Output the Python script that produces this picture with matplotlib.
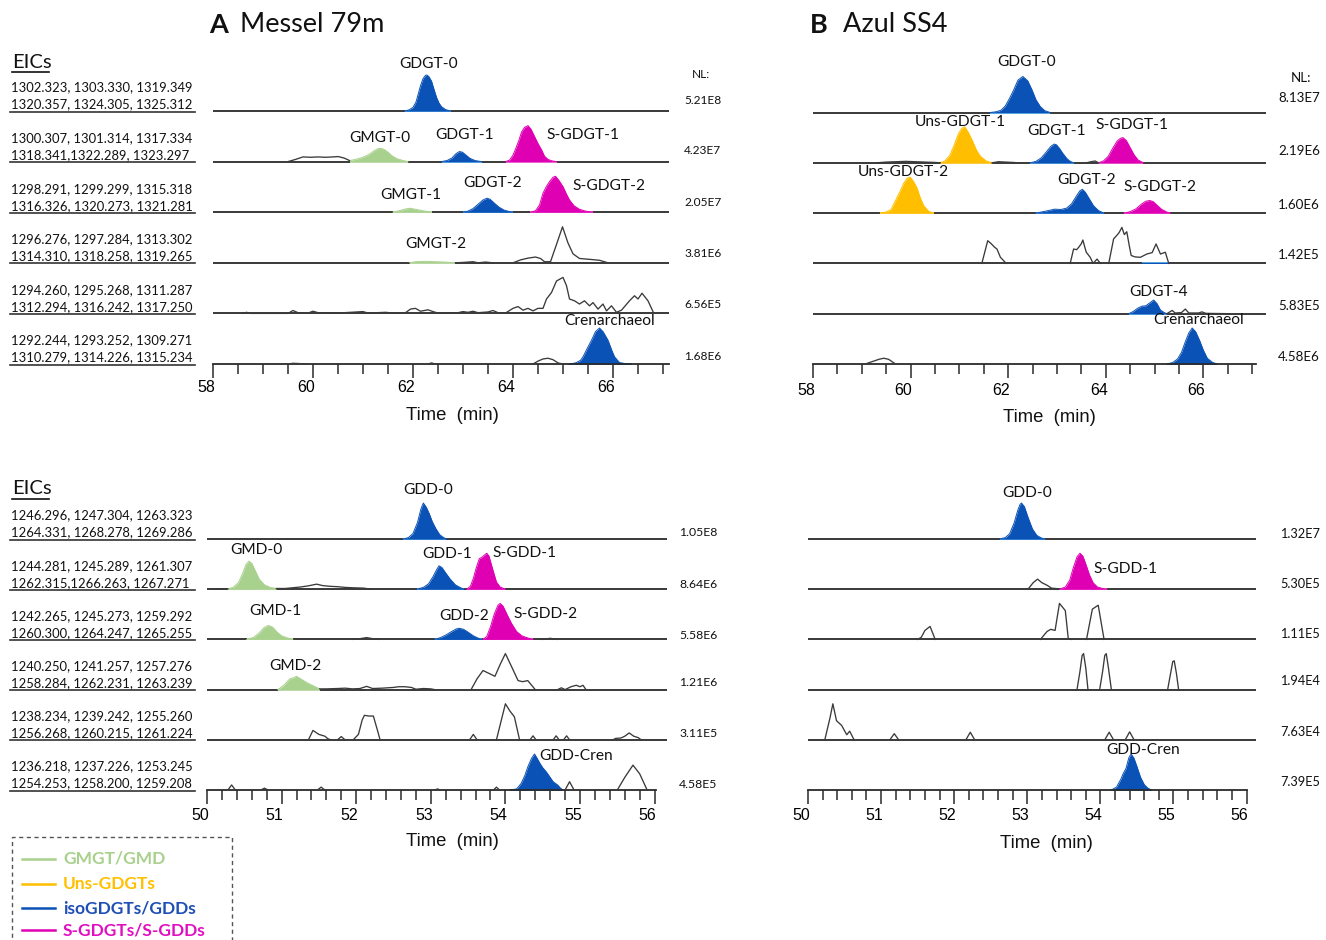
import numpy as np
import matplotlib
matplotlib.use("Agg")
import matplotlib.pyplot as plt
from matplotlib.lines import Line2D
from matplotlib.patches import Rectangle
from matplotlib.transforms import ScaledTranslation

# ====================== DATA (time in min, intensity in % of NL) ======================
# ---- Panel A: Messel 79m, GDGTs ----
A_GDGT0 = [(61.83,0),(61.92,3),(62.0,10),(62.06,25),(62.1,45),(62.15,70),(62.2,90),(62.25,99),(62.28,100),
           (62.32,95),(62.37,83),(62.42,60),(62.47,38),(62.52,22),(62.57,12),(62.65,4),(62.75,0)]
A_N1 = [(59.5,0),(59.65,6),(59.8,13),(59.95,12),(60.1,13),(60.25,12),(60.4,13),(60.5,14),(60.62,10),(60.73,3)]
A_GMGT0 = [(60.73,3),(60.85,6),(61.0,12),(61.12,20),(61.22,30),(61.3,36),(61.36,37),(61.42,34),(61.5,26),
           (61.58,16),(61.68,8),(61.8,3),(61.9,0)]
A_GDGT1 = [(62.57,0),(62.68,3),(62.78,10),(62.86,22),(62.93,28),(62.99,26),(63.06,18),(63.14,9),(63.24,3),(63.37,0)]
A_SGDGT1 = [(63.85,0),(63.93,4),(64.0,18),(64.06,38),(64.12,60),(64.17,82),(64.23,95),(64.3,100),(64.36,90),
            (64.43,70),(64.5,50),(64.57,33),(64.63,15),(64.7,6),(64.78,2),(64.87,0)]
A_GMGT1 = [(61.6,0),(61.72,4),(61.85,9),(61.95,11),(62.05,8),(62.2,4),(62.37,0)]
A_GDGT2 = [(62.99,0),(63.1,3),(63.2,10),(63.3,22),(63.4,34),(63.48,39),(63.54,36),(63.62,26),(63.72,14),
           (63.82,6),(63.92,2),(64.0,0)]
A_SGDGT2 = [(64.35,0),(64.45,4),(64.53,20),(64.6,53),(64.67,72),(64.73,85),(64.8,97),(64.85,100),(64.92,88),
            (65.0,71),(65.07,50),(65.13,34),(65.22,18),(65.33,8),(65.45,3),(65.6,0)]
A_GMGT2 = [(61.93,0),(62.05,3),(62.25,4),(62.45,3),(62.65,2),(62.83,0)]
A_N3a = [(62.85,0),(63.0,1),(63.2,3),(63.3,0),(63.45,2),(63.6,0)]
A_N3 = [(64.0,0),(64.15,8),(64.3,13),(64.45,16),(64.55,12),(64.63,3),(64.75,3),(64.88,55),(64.99,100),
        (65.1,55),(65.2,25),(65.33,12),(65.5,10),(65.73,7),(65.9,0)]
A_N4 = [(58.6,0),(58.67,3),(58.75,0),(59.5,0),(59.6,8),(59.7,2),(59.9,1),(60.0,6),(60.1,2),(60.3,2),(60.5,1),
        (61.0,5),(61.1,1),(61.45,3),(61.6,1),(61.85,2),(61.95,12),(62.05,14),(62.15,6),(62.3,10),(62.4,5),
        (62.5,1),(62.9,2),(63.0,5),(63.1,3),(63.2,6),(63.3,2),(63.5,4),(63.6,8),(63.7,2),(63.85,1),(64.0,14),
        (64.1,19),(64.2,9),(64.3,14),(64.4,7),(64.5,14),(64.6,14),(64.67,40),(64.77,58),(64.87,90),(65.0,100),
        (65.07,77),(65.13,40),(65.23,35),(65.33,26),(65.43,35),(65.53,21),(65.6,30),(65.7,12),(65.8,26),
        (65.87,7),(65.97,21),(66.07,3),(66.17,9),(66.33,35),(66.43,49),(66.5,40),(66.58,56),(66.7,35),(66.8,5)]
A_N5a = [(59.5,0),(59.6,2),(59.75,1),(59.85,0)]
A_N5b = [(62.3,0),(62.37,3),(62.45,0)]
A_N5c = [(64.4,0),(64.5,8),(64.6,14),(64.7,16),(64.8,12),(64.9,3),(65.0,0)]
A_CREN = [(65.12,0),(65.25,3),(65.35,10),(65.4,20),(65.48,42),(65.57,66),(65.65,90),(65.73,100),(65.8,90),
          (65.9,66),(65.97,40),(66.03,20),(66.13,4),(66.25,1),(66.37,0)]

# ---- Panel B: Azul SS4, GDGTs ----
B_GDGT0 = [(61.63,0),(61.75,2),(61.85,6),(61.94,18),(62.03,40),(62.11,62),(62.2,90),(62.3,100),(62.4,88),
           (62.49,62),(62.57,35),(62.66,16),(62.75,5),(62.86,0)]
B_N1a = [(59.3,0),(59.5,2),(59.7,3),(59.9,4),(60.1,3),(60.3,2),(60.5,1),(60.61,0)]
B_UNS1 = [(60.61,0),(60.7,5),(60.8,20),(60.88,45),(60.98,81),(61.05,96),(61.11,100),(61.18,85),(61.26,63),
          (61.35,35),(61.43,18),(61.55,5),(61.67,0)]
B_N1b = [(61.67,0),(61.8,3),(61.95,2),(62.1,1),(62.2,0)]
B_GDGT1 = [(62.45,0),(62.57,4),(62.68,14),(62.78,30),(62.87,45),(62.94,52),(62.99,50),(63.05,40),(63.12,26),
           (63.2,12),(63.27,4),(63.34,0)]
B_N1c = [(63.6,0),(63.7,3),(63.78,5),(63.85,0)]
B_SGDGT1 = [(63.85,0),(63.95,5),(64.05,18),(64.14,40),(64.23,60),(64.3,68),(64.35,70),(64.42,62),(64.5,42),
            (64.58,22),(64.66,8),(64.77,0)]
B_UNS2 = [(59.38,0),(59.5,3),(59.6,10),(59.72,43),(59.8,65),(59.86,83),(59.93,97),(59.99,100),(60.06,88),
          (60.13,70),(60.2,42),(60.27,20),(60.37,5),(60.47,0)]
B_GDGT2 = [(62.56,0),(62.68,3),(62.82,7),(62.95,11),(63.08,10),(63.2,14),(63.3,26),(63.4,48),(63.47,62),
           (63.52,66),(63.58,58),(63.66,40),(63.75,20),(63.85,7),(63.96,0)]
B_SGDGT2 = [(64.37,0),(64.5,4),(64.62,12),(64.73,25),(64.82,33),(64.9,35),(64.97,32),(65.05,22),(65.15,10),
            (65.25,3),(65.32,0)]
B_N3a = [(61.46,0),(61.58,63),(61.65,55),(61.72,45),(61.77,40),(61.84,17),(61.96,0)]
B_N3b = [(63.27,0),(63.34,40),(63.4,38),(63.44,44),(63.5,55),(63.53,65),(63.57,45),(63.6,31),(63.68,17),
         (63.74,0),(63.82,12),(63.89,0)]
B_N3c = [(64.06,0),(64.16,68),(64.22,77),(64.27,85),(64.33,100),(64.38,80),(64.43,88),(64.48,50),(64.52,22),
         (64.6,18),(64.71,17),(64.84,26),(64.95,30),(65.03,54),(65.12,26),(65.22,31),(65.29,0)]
B_N3blue = [(64.75,0),(65.3,0)]
B_GDGT4 = [(64.47,0),(64.56,6),(64.65,15),(64.74,21),(64.82,22),(64.9,30),(64.98,38),(65.05,28),(65.12,10),
           (65.2,3),(65.25,0)]
B_N4 = [(65.25,0),(65.36,9),(65.42,2),(65.55,3),(65.63,13),(65.7,2),(65.9,2),(65.97,5),(66.05,1),(66.55,0)]
B_N5 = [(59.07,0),(59.2,6),(59.35,13),(59.45,16),(59.55,13),(59.69,0)]
B_CREN = [(65.25,0),(65.37,4),(65.47,14),(65.55,32),(65.63,62),(65.7,86),(65.77,100),(65.84,90),(65.92,66),
          (66.0,38),(66.08,16),(66.18,5),(66.28,0)]

# ---- Panel C: Messel 79m, GDDs ----
C_GDD0 = [(52.63,0),(52.7,4),(52.76,15),(52.82,45),(52.87,85),(52.9,100),(52.94,88),(52.98,70),(53.02,48),
          (53.07,28),(53.12,12),(53.17,4),(53.21,0)]
C_N1a = [(50.1,0),(50.2,1),(50.28,1)]
C_GMD0 = [(50.28,1),(50.35,5),(50.42,18),(50.48,45),(50.52,68),(50.56,78),(50.6,72),(50.65,50),(50.7,28),
          (50.77,12),(50.85,5),(50.93,2)]
C_N1b = [(50.93,2),(51.05,2),(51.15,4),(51.25,6),(51.35,9),(51.47,14),(51.55,10),(51.65,8),(51.75,7),
         (51.85,5),(51.95,4),(52.1,3),(52.2,0)]
C_GDD1 = [(52.81,0),(52.9,5),(52.97,15),(53.03,35),(53.08,55),(53.11,65),(53.15,60),(53.2,45),(53.26,28),
          (53.33,12),(53.4,4),(53.45,0)]
C_SGDD1 = [(53.48,0),(53.53,8),(53.57,30),(53.61,60),(53.65,85),(53.68,88),(53.72,95),(53.75,100),(53.78,92),
           (53.83,55),(53.88,20),(53.93,6),(54.0,0)]
C_GMD1 = [(50.53,0),(50.62,5),(50.7,18),(50.76,32),(50.82,39),(50.88,34),(50.94,20),(51.0,10),(51.08,4),(51.15,0)]
C_N2a = [(51.95,0),(52.05,2),(52.14,5),(52.22,2),(52.3,0)]
C_GDD2 = [(53.05,0),(53.13,5),(53.2,12),(53.28,22),(53.34,29),(53.38,31),(53.44,28),(53.5,20),(53.57,10),
          (53.63,4),(53.68,0)]
C_SGDD2 = [(53.7,0),(53.75,8),(53.8,35),(53.85,70),(53.9,95),(53.93,100),(53.97,92),(54.02,70),(54.08,45),
           (54.15,22),(54.22,10),(54.3,4),(54.37,0)]
C_N2b = [(54.5,0),(54.6,3),(54.69,0)]
C_GMD2 = [(50.95,0),(51.03,12),(51.11,30),(51.16,33),(51.2,37),(51.27,28),(51.35,18),(51.43,10),(51.51,2)]
C_N3a = [(51.51,2),(51.6,2),(51.75,3),(51.85,4),(51.95,2),(52.05,3),(52.14,9),(52.22,3),(52.35,4),(52.5,6),
         (52.57,8),(52.65,8),(52.74,6),(52.8,1),(52.9,3),(53.0,2),(53.05,0)]
C_N3b = [(53.54,0),(53.62,30),(53.7,53),(53.78,45),(53.86,37),(53.93,70),(54.0,100),(54.08,65),(54.17,25),
         (54.23,22),(54.3,25),(54.4,0)]
C_N3c = [(54.7,0),(54.75,5),(54.8,0),(54.88,8),(54.95,12),(55.0,8),(55.04,12),(55.08,0)]
C_N4a = [(51.36,0),(51.42,26),(51.5,15),(51.58,10),(51.62,3),(51.66,0)]
C_N4b = [(51.75,0),(51.8,9),(51.85,0)]
C_N4c = [(51.96,0),(52.03,15),(52.08,55),(52.11,68),(52.17,66),(52.23,66),(52.28,30),(52.32,0)]
C_N4d = [(53.52,0),(53.57,15),(53.62,0)]
C_N4e = [(53.88,0),(54.0,100),(54.06,80),(54.12,64),(54.19,0)]
C_N4f = [(54.33,0),(54.37,11),(54.41,0)]
C_N4g = [(54.64,0),(54.68,11),(54.72,0),(54.78,0),(54.82,11),(54.86,0)]
C_N4h = [(55.44,0),(55.48,4),(55.55,5),(55.6,10),(55.66,19),(55.72,10),(55.78,6),(55.82,0)]
C_N5a = [(50.28,0),(50.33,14),(50.38,0)]
C_N5b = [(50.72,0),(50.77,5),(50.82,0)]
C_N5c = [(51.48,0),(51.53,8),(51.58,0)]
C_N5d = [(53.05,0),(53.09,3),(53.13,0)]
C_N5e = [(53.84,0),(53.88,8),(53.92,0)]
C_GDDCREN = [(54.06,0),(54.15,3),(54.21,18),(54.26,40),(54.3,64),(54.35,88),(54.39,100),(54.42,90),(54.46,75),
             (54.5,62),(54.55,50),(54.6,35),(54.64,23),(54.7,14),(54.74,5),(54.77,0)]
C_N5f = [(54.8,0),(54.86,23),(54.92,0)]
C_N5g = [(55.5,0),(55.6,35),(55.71,69),(55.8,45),(55.9,0)]

# ---- Panel D: Azul SS4, GDDs ----
D_GDD0 = [(52.62,0),(52.7,4),(52.76,15),(52.82,45),(52.87,80),(52.9,96),(52.92,100),(52.96,90),(53.01,60),
          (53.07,28),(53.13,10),(53.19,3),(53.24,0)]
D_N1 = [(53.01,0),(53.08,18),(53.14,28),(53.2,18),(53.27,11),(53.33,3),(53.44,1)]
D_SGDD1 = [(53.44,0),(53.52,6),(53.58,25),(53.63,60),(53.68,90),(53.72,100),(53.76,92),(53.8,70),(53.85,40),
           (53.9,18),(53.96,6),(54.03,2),(54.09,0)]
D_N2a = [(51.5,0),(51.55,6),(51.6,25),(51.67,36),(51.74,0)]
D_N2b = [(53.18,0),(53.27,22),(53.32,28),(53.38,25),(53.44,100),(53.52,80),(53.56,3),(53.6,0)]
D_N2c = [(53.81,0),(53.89,84),(53.97,95),(54.05,0)]
D_N3a = [(53.68,0),(53.72,50),(53.75,95),(53.77,100),(53.8,60),(53.83,0)]
D_N3b = [(53.99,0),(54.03,50),(54.06,95),(54.08,100),(54.11,60),(54.15,0)]
D_N3c = [(54.92,0),(54.96,45),(54.99,78),(55.01,80),(55.04,45),(55.07,0)]
D_N4a = [(50.23,0),(50.3,60),(50.34,100),(50.39,53),(50.46,40),(50.53,14),(50.57,24),(50.63,0)]
D_N4b = [(51.12,0),(51.18,17),(51.24,0)]
D_N4c = [(52.16,0),(52.22,21),(52.28,0)]
D_N4d = [(54.06,0),(54.12,21),(54.18,0)]
D_N4e = [(54.34,0),(54.4,22),(54.46,0)]
D_GDDCREN = [(54.15,0),(54.22,8),(54.28,30),(54.31,45),(54.35,60),(54.39,90),(54.42,100),(54.46,88),(54.5,65),
             (54.55,35),(54.6,15),(54.65,5),(54.7,0)]

# traces, top to bottom
A_TRACES = [
    [("blue", A_GDGT0)],
    [("line", A_N1), ("green", A_GMGT0), ("blue", A_GDGT1), ("magenta", A_SGDGT1)],
    [("green", A_GMGT1), ("blue", A_GDGT2), ("magenta", A_SGDGT2)],
    [("green", A_GMGT2), ("line", A_N3a), ("line", A_N3)],
    [("line", A_N4)],
    [("line", A_N5a), ("line", A_N5b), ("line", A_N5c), ("blue", A_CREN)],
]
B_TRACES = [
    [("blue", B_GDGT0)],
    [("line", B_N1a), ("yellow", B_UNS1), ("line", B_N1b), ("blue", B_GDGT1), ("line", B_N1c), ("magenta", B_SGDGT1)],
    [("yellow", B_UNS2), ("blue", B_GDGT2), ("magenta", B_SGDGT2)],
    [("line", B_N3a), ("line", B_N3b), ("blue", B_N3blue), ("line", B_N3c)],
    [("blue", B_GDGT4), ("line", B_N4)],
    [("line", B_N5), ("blue", B_CREN)],
]
C_TRACES = [
    [("blue", C_GDD0)],
    [("line", C_N1a), ("green", C_GMD0), ("line", C_N1b), ("blue", C_GDD1), ("magenta", C_SGDD1)],
    [("green", C_GMD1), ("line", C_N2a), ("blue", C_GDD2), ("magenta", C_SGDD2), ("line", C_N2b)],
    [("green", C_GMD2), ("line", C_N3a), ("line", C_N3b), ("line", C_N3c)],
    [("line", C_N4a), ("line", C_N4b), ("line", C_N4c), ("line", C_N4d), ("line", C_N4e), ("line", C_N4f),
     ("line", C_N4g), ("line", C_N4h)],
    [("line", C_N5a), ("line", C_N5b), ("line", C_N5c), ("line", C_N5d), ("line", C_N5e), ("blue", C_GDDCREN),
     ("line", C_N5f), ("line", C_N5g)],
]
D_TRACES = [
    [("blue", D_GDD0)],
    [("line", D_N1), ("magenta", D_SGDD1)],
    [("line", D_N2a), ("line", D_N2b), ("line", D_N2c)],
    [("line", D_N3a), ("line", D_N3b), ("line", D_N3c)],
    [("line", D_N4a), ("line", D_N4b), ("line", D_N4c), ("line", D_N4d), ("line", D_N4e)],
    [("blue", D_GDDCREN)],
]

# normalisation levels
A_NL = ["5.21E8", "4.23E7", "2.05E7", "3.81E6", "6.56E5", "1.68E6"]
B_NL = ["8.13E7", "2.19E6", "1.60E6", "1.42E5", "5.83E5", "4.58E6"]
C_NL = ["1.05E8", "8.64E6", "5.58E6", "1.21E6", "3.11E5", "4.58E5"]
D_NL = ["1.32E7", "5.30E5", "1.11E5", "1.94E4", "7.63E4", "7.39E5"]

# EIC m/z labels
TOP_EICS = [("1302.323, 1303.330, 1319.349", "1320.357, 1324.305, 1325.312"),
            ("1300.307, 1301.314, 1317.334", "1318.341,1322.289, 1323.297"),
            ("1298.291, 1299.299, 1315.318", "1316.326, 1320.273, 1321.281"),
            ("1296.276, 1297.284, 1313.302", "1314.310, 1318.258, 1319.265"),
            ("1294.260, 1295.268, 1311.287", "1312.294, 1316.242, 1317.250"),
            ("1292.244, 1293.252, 1309.271", "1310.279, 1314.226, 1315.234")]
BOT_EICS = [("1246.296, 1247.304, 1263.323", "1264.331, 1268.278, 1269.286"),
            ("1244.281, 1245.289, 1261.307", "1262.315,1266.263, 1267.271"),
            ("1242.265, 1245.273, 1259.292", "1260.300, 1264.247, 1265.255"),
            ("1240.250, 1241.257, 1257.276", "1258.284, 1262.231, 1263.239"),
            ("1238.234, 1239.242, 1255.260", "1256.268, 1260.215, 1261.224"),
            ("1236.218, 1237.226, 1253.245", "1254.253, 1258.200, 1259.208")]

# peak labels: (text, time, trace index, height above baseline in trace spacings)
A_LABELS = [("GDGT-0", 62.32, 0, 0.93), ("GMGT-0", 61.34, 1, 0.46), ("GDGT-1", 63.04, 1, 0.53),
            ("S-GDGT-1", 65.40, 1, 0.53), ("GMGT-1", 61.96, 2, 0.34), ("GDGT-2", 63.59, 2, 0.57),
            ("S-GDGT-2", 65.91, 2, 0.51), ("GMGT-2", 62.46, 3, 0.38), ("Crenarchaeol", 65.93, 5, 0.84)]
B_LABELS = [("GDGT-0", 62.37, 0, 1.0), ("Uns-GDGT-1", 61.01, 1, 0.82), ("GDGT-1", 62.99, 1, 0.63),
            ("S-GDGT-1", 64.54, 1, 0.76), ("Uns-GDGT-2", 59.85, 2, 0.81), ("GDGT-2", 63.60, 2, 0.66),
            ("S-GDGT-2", 65.12, 2, 0.51), ("GDGT-4", 65.08, 4, 0.44), ("Crenarchaeol", 65.90, 5, 0.87)]
C_LABELS = [("GDD-0", 52.97, 0, 0.98), ("GMD-0", 50.66, 1, 0.78), ("GDD-1", 53.22, 1, 0.71),
            ("S-GDD-1", 54.25, 1, 0.73), ("GMD-1", 50.92, 2, 0.56), ("GDD-2", 53.45, 2, 0.46),
            ("S-GDD-2", 54.54, 2, 0.50), ("GMD-2", 51.19, 3, 0.48), ("GDD-Cren", 54.95, 5, 0.68)]
D_LABELS = [("GDD-0", 53.00, 0, 0.92), ("S-GDD-1", 54.34, 1, 0.40), ("GDD-Cren", 54.59, 5, 0.80)]

LEGEND_NAMES = ["GMGT/GMD", "Uns-GDGTs", "isoGDGTs/GDDs", "S-GDGTs/S-GDDs"]
LEGEND_KEYS = ["green", "yellow", "blue", "magenta"]

# ====================== STYLE ======================
FILL = {"blue": "#0b52b6", "magenta": "#e000b4", "green": "#a9d18e", "yellow": "#ffbf00"}
EDGE = {"blue": "#58a6e6", "magenta": "#f070d8", "green": "#c5e0b3", "yellow": "#ffd45a"}
LEG_TXT = {"green": "#a9d18e", "yellow": "#ffc000", "blue": "#1f4fb5", "magenta": "#e010c0"}
LINE_C = "#3a3a3a"
BASE_C = "#2a2a2a"
TXT = "Lato"
AX_FONT = "Liberation Sans"

W, H = 1326, 940
fig = plt.figure(figsize=(W / 100, H / 100), dpi=100)
fig.patch.set_facecolor("white")


def ftext(xp, yp, s, **kw):
    return fig.text(xp / W, 1 - yp / H, s, **kw)


def fline(x0, x1, y0, y1, **kw):
    fig.add_artist(Line2D([x0 / W, x1 / W], [1 - y0 / H, 1 - y1 / H], transform=fig.transFigure, **kw))


# panel geometry (pixels) and axis settings
GEOM = {
    "A": dict(L=213, R=669, top=40, bottom=364, t0=58, ppm=50.0, sp=50.6, bound=None,
              majors=[58, 60, 62, 64, 66], mstep=0.5, mend=67.0, pad=1.4),
    "B": dict(L=813, R=1266, top=40, bottom=364, t0=58, ppm=48.8, sp=50.3, bound=67.08,
              majors=[58, 60, 62, 64, 66], mstep=0.5, mend=67.0, pad=3.8),
    "C": dict(L=207, R=667, top=470, bottom=790, t0=50, ppm=74.6, sp=50.2, bound=56.02,
              majors=[50, 51, 52, 53, 54, 55, 56], mstep=0.2, mend=56.0, pad=2.8),
    "D": dict(L=808, R=1256, top=470, bottom=790, t0=50, ppm=73.1, sp=50.2, bound=56.0,
              majors=[50, 51, 52, 53, 54, 55, 56], mstep=0.2, mend=56.0, pad=2.8),
}


def make_panel(key, traces, labels):
    g = GEOM[key]
    ax = fig.add_axes([g["L"] / W, 1 - g["bottom"] / H, (g["R"] - g["L"]) / W, (g["bottom"] - g["top"]) / H])
    tmax = g["t0"] + (g["R"] - g["L"]) / g["ppm"]
    ax.set_xlim(g["t0"], tmax)
    ax.set_ylim(0, (g["bottom"] - g["top"]) / g["sp"])
    ax.patch.set_alpha(0)
    for s in ("top", "left", "right"):
        ax.spines[s].set_visible(False)
    ax.spines["bottom"].set_linewidth(1.3)
    ax.spines["bottom"].set_color(BASE_C)
    ax.spines["bottom"].set_bounds(g["t0"], g["bound"] if g["bound"] else tmax)
    ax.set_yticks([])
    ax.set_xticks(g["majors"])
    ax.set_xticks(np.arange(g["t0"], g["mend"] + 1e-6, g["mstep"]), minor=True)
    ax.tick_params(axis="x", which="major", direction="out", length=10, width=1.1, color=BASE_C,
                   labelsize=11.5, pad=g["pad"])
    ax.tick_params(axis="x", which="minor", direction="out", length=7, width=1.1, color=BASE_C)
    for lab in ax.get_xticklabels():
        lab.set_fontfamily(AX_FONT)
        lab.set_transform(lab.get_transform() + ScaledTranslation(-0.07, 0, fig.dpi_scale_trans))
    fs = 36.0 / g["sp"]
    n = len(traces)
    for i, segs in enumerate(traces):
        off = n - 1 - i
        if i < n - 1:
            ax.plot([g["t0"], tmax], [off, off], color=BASE_C, lw=1.3, zorder=1, clip_on=False,
                    solid_capstyle="butt")
        for kind, pts in segs:
            t = [p[0] for p in pts]
            v = [off + p[1] * fs / 100.0 for p in pts]
            if kind == "line":
                ax.plot(t, v, color=LINE_C, lw=0.95, zorder=3, clip_on=False)
            else:
                ax.plot([t[0], t[-1]], [off, off], color=EDGE[kind], lw=1.4, zorder=2, clip_on=False,
                        solid_capstyle="butt")
                ax.fill_between(t, off, v, color=FILL[kind], lw=0, zorder=2.5, clip_on=False)
                ax.plot(t, v, color=FILL[kind], lw=0.7, zorder=2.5, clip_on=False)
    for txt, t, idx, dy in labels:
        ax.text(t, n - 1 - idx + dy, txt, ha="center", va="center", fontsize=11.2, family=TXT,
                color="#111111", zorder=5, clip_on=False)
    return ax


make_panel("A", A_TRACES, A_LABELS)
make_panel("B", B_TRACES, B_LABELS)
make_panel("C", C_TRACES, C_LABELS)
make_panel("D", D_TRACES, D_LABELS)

# x-axis titles
for (xc, yc) in [(452, 416), (1049, 418), (452, 841), (1046, 843)]:
    ftext(xc, yc, "Time  (min)", ha="center", va="center", fontsize=13.3, family=AX_FONT, color="#111111")

# panel titles
ftext(209, 25, "A", ha="left", va="center", fontsize=19.5, family=TXT, weight="bold", color="#111111")
ftext(240, 25, "Messel 79m", ha="left", va="center", fontsize=19.5, family=TXT, color="#111111")
ftext(810, 25, "B", ha="left", va="center", fontsize=19.5, family=TXT, weight="bold", color="#111111")
ftext(843, 25, "Azul SS4", ha="left", va="center", fontsize=19.5, family=TXT, color="#111111")

# NL values
NL_POS = {"A": (684, [11, 11, 10, 9, 9, 7], 8.6), "B": (1278, [15, 12, 8, 8, 8, 7], 9.6),
          "C": (679, [6, 5, 4, 7, 6, 6], 8.8), "D": (1280, [5, 5, 5, 9, 8, 8], 9.2)}
for key, vals in (("A", A_NL), ("B", B_NL), ("C", C_NL), ("D", D_NL)):
    g = GEOM[key]
    x, dys, fsz = NL_POS[key]
    for i, val in enumerate(vals):
        yb = g["bottom"] - (5 - i) * g["sp"]
        ftext(x, yb - dys[i], val, ha="left", va="center", fontsize=fsz, family=TXT, color="#111111")
ftext(701, 74, "NL:", ha="center", va="center", fontsize=8.6, family=TXT, color="#111111")
ftext(1301, 78, "NL:", ha="center", va="center", fontsize=9.6, family=TXT, color="#111111")

# EIC labels
for key, eics, ey in (("A", TOP_EICS, 62), ("C", BOT_EICS, 489)):
    g = GEOM[key]
    ftext(12, ey, "EICs", ha="left", va="center", fontsize=14.5, family=TXT, color="#111111")
    fline(12, 49, ey + 10, ey + 10, color="#111111", lw=1.2)
    for i, (l1, l2) in enumerate(eics):
        yb = g["bottom"] - (5 - i) * g["sp"]
        ftext(11, yb - 23.5, l1, ha="left", va="center", fontsize=9.4, family=TXT, color="#111111")
        ftext(11, yb - 6.5, l2, ha="left", va="center", fontsize=9.4, family=TXT, color="#111111")
        fline(10, 195, yb + 0.5, yb + 0.5, color="#333333", lw=1.2)

# legend box
fig.add_artist(Rectangle((12 / W, 1 - 960 / H), 220 / W, (960 - 837) / H, transform=fig.transFigure,
                         fill=False, ls=(0, (3, 2.5)), lw=1.0, edgecolor="#555555"))
for name, key, yy in zip(LEGEND_NAMES, LEGEND_KEYS, [859, 884, 908, 930]):
    fline(22, 55, yy, yy, color=FILL[key], lw=1.8)
    ftext(63, yy, name, ha="left", va="center", fontsize=12.5, family=TXT, weight="bold", color=LEG_TXT[key])

fig.savefig("out.png", dpi=100, facecolor="white")
